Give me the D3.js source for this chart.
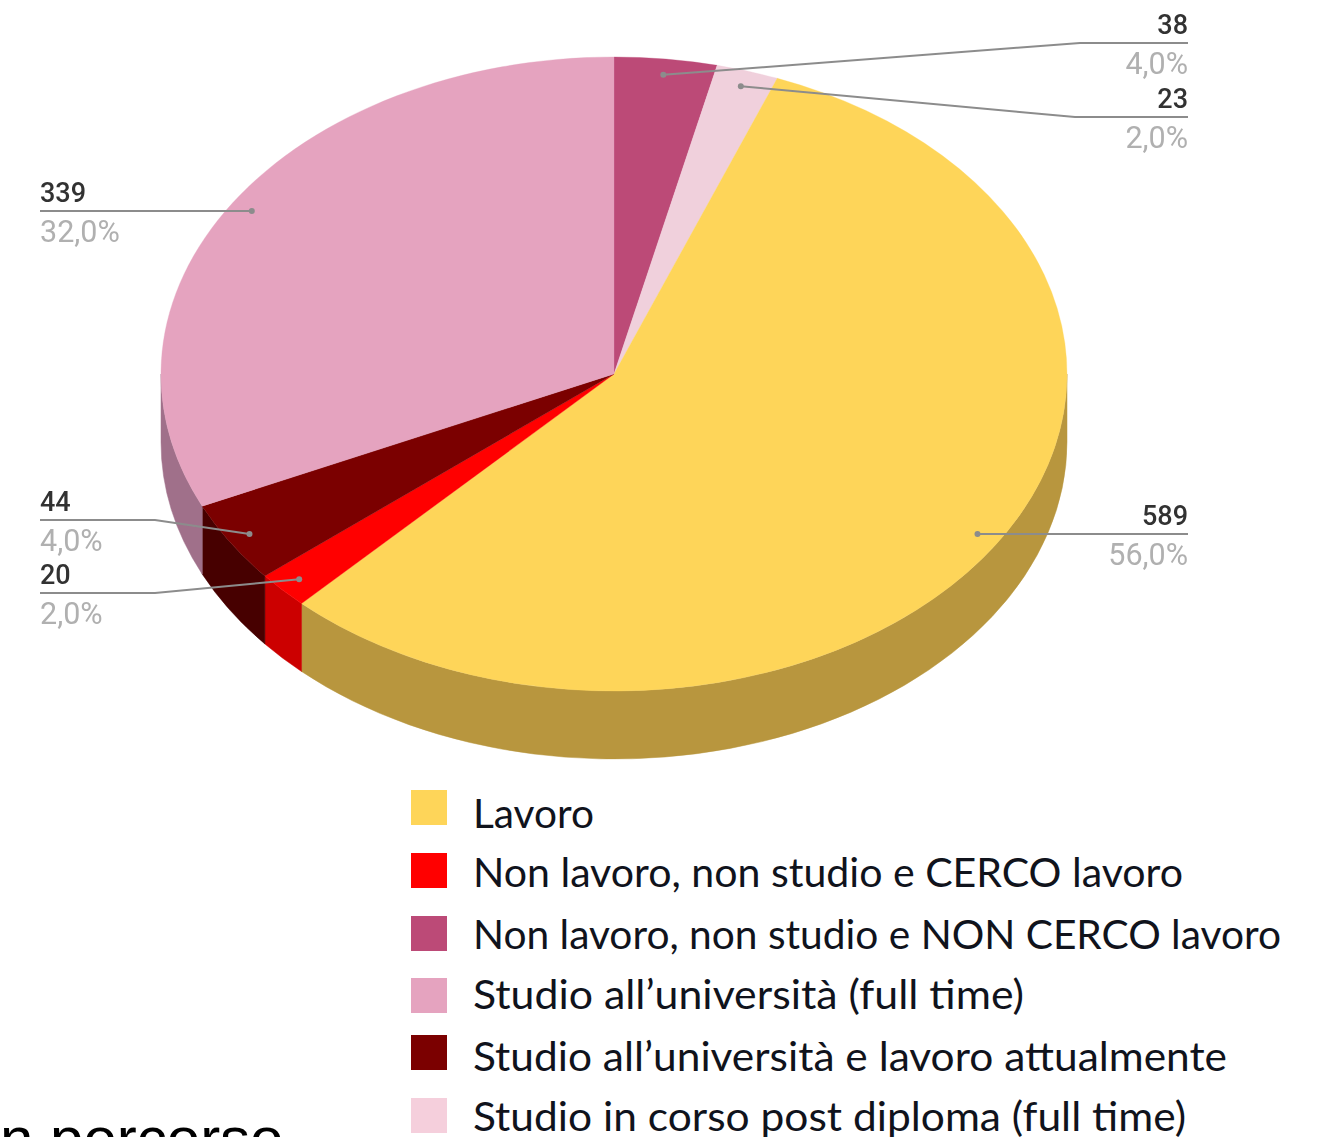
<!DOCTYPE html>
<html><head><meta charset="utf-8">
<script src="https://cdn.jsdelivr.net/npm/d3@7/dist/d3.min.js"></script>
<style>html,body{margin:0;padding:0;background:#fff;overflow:hidden}svg{display:block}</style>
</head><body><div id="c"></div>
<script>
// Data, clockwise from 12 o'clock as drawn in the pie
const pieCategories = ["Non lavoro, non studio e NON CERCO lavoro","Studio in corso post diploma (full time)","Lavoro","Non lavoro, non studio e CERCO lavoro","Studio all’università e lavoro attualmente","Studio all’università (full time)"];
const pieValues = [38,23,589,20,44,339];
const piePercents = ["4,0%","2,0%","56,0%","2,0%","4,0%","32,0%"];
const topColors = ["#bc4a77","#f0d0dc","#fed559","#ff0000","#7b0000","#e5a3bf"];
const wallColors = ["#8d3759","#b49ca5","#b8963e","#cc0000","#470000","#a0708a"];
const legendOrder = ["Lavoro","Non lavoro, non studio e CERCO lavoro","Non lavoro, non studio e NON CERCO lavoro","Studio all’università (full time)","Studio all’università e lavoro attualmente","Studio in corso post diploma (full time)"];
const legendColors = ["#fed559","#ff0000","#bc4a77","#e5a3bf","#7b0000","#f5cfdc"];

// Layout
const W=1322,H=1137,cx=614,cy=374,rx=453,ry=317,depth=68;
const legendTops=[790,853,916,978,1035,1098], legendBase=[828,887,949,1009,1071,1131];
const legendWidths=[121,710,808,551,754,713];
// For each slice: side, y of horizontal rule, elbow x
const leaderLayout=[
 {side:"r",y:43,elbow:1080},{side:"r",y:117,elbow:1075},{side:"r",y:534,elbow:null},
 {side:"l",y:593,elbow:155},{side:"l",y:520,elbow:155},{side:"l",y:211,elbow:null}];

const svg=d3.select("#c").append("svg").attr("width",W).attr("height",H).attr("viewBox",`0 0 ${W} ${H}`);
const defs=svg.append("defs");
defs.append("filter").attr("id","soft").attr("x","-5%").attr("y","-20%").attr("width","110%").attr("height","140%")
  .append("feGaussianBlur").attr("stdDeviation",0.6);

// The pie is drawn in perspective: angles on screen drift slightly from the true sweep
const warp=a=>a+0.026*Math.sin(a/2);
const slices=d3.pie().sort(null).value(d=>d).startAngle(0).endAngle(2*Math.PI)(pieValues)
  .map(s=>({...s,startAngle:warp(s.startAngle),endAngle:warp(s.endAngle)}));
const px=(a,f=1)=>cx+rx*f*Math.sin(a), py=(a,f=1)=>cy-ry*f*Math.cos(a);

// Side walls (visible for the lower half of the ellipse only)
const wall=svg.append("g");
slices.forEach((s,i)=>{
  const a0=Math.max(s.startAngle,Math.PI/2), a1=Math.min(s.endAngle,3*Math.PI/2);
  if(a1<=a0) return;
  const large=(a1-a0)>Math.PI?1:0;
  const d=`M${px(a0)},${py(a0)}A${rx},${ry} 0 ${large} 1 ${px(a1)},${py(a1)}`+
          `L${px(a1)},${py(a1)+depth}A${rx},${ry} 0 ${large} 0 ${px(a0)},${py(a0)+depth}Z`;
  wall.append("path").attr("d",d).attr("fill",wallColors[i]).attr("stroke",wallColors[i]).attr("stroke-width",0.5);
});

// Top face
const arc=d3.arc().innerRadius(0).outerRadius(rx);
svg.append("g").attr("transform",`translate(${cx},${cy}) scale(1,${ry/rx})`)
  .selectAll("path").data(slices).join("path")
  .attr("d",arc).attr("fill",(d,i)=>topColors[i]).attr("stroke",(d,i)=>topColors[i]).attr("stroke-width",0.4);

// Leaders and labels
const leaders=svg.append("g").attr("filter","url(#soft)");
slices.forEach((s,i)=>{
  const L=leaderLayout[i], mid=(s.startAngle+s.endAngle)/2;
  const ax=px(mid,0.95), ay=py(mid,0.95);
  const edge=L.side==="r"?1188:40;
  const pts=L.elbow?[[edge,L.y],[L.elbow,L.y],[ax,ay]]:[[edge,L.y],[ax,L.y]];
  leaders.append("path").attr("d",d3.line()(pts)).attr("fill","none").attr("stroke","#8c8c8c").attr("stroke-width",2);
  leaders.append("circle").attr("cx",ax).attr("cy",L.elbow?ay:L.y).attr("r",3).attr("fill","#8c8c8c");
  const anchor=L.side==="r"?"end":"start";
  leaders.append("text").attr("x",edge).attr("y",L.y-9).attr("text-anchor",anchor)
    .attr("font-family","Roboto").attr("font-size",27).attr("font-weight",500).attr("fill","#333").text(pieValues[i]);
  leaders.append("text").attr("x",edge).attr("y",L.y+31).attr("text-anchor",anchor)
    .attr("font-family","Roboto").attr("font-size",30.5).attr("fill","#b0b0b0").text(piePercents[i]);
});

// Legend
const lg=svg.append("g");
legendOrder.forEach((t,i)=>{
  lg.append("rect").attr("x",411).attr("y",legendTops[i]).attr("width",36).attr("height",35).attr("fill",legendColors[i]);
  lg.append("text").attr("x",473).attr("y",legendBase[i]).attr("font-family","Lato").attr("font-size",41).attr("fill","#10131c")
    .attr("textLength",legendWidths[i]).attr("lengthAdjust","spacingAndGlyphs").text(t);
});

// Clipped text at the bottom left
svg.append("text").attr("x",0).attr("y",1159).attr("font-family","Liberation Sans").attr("font-size",60).attr("fill","#000").text("n percorso");
</script></body></html>
